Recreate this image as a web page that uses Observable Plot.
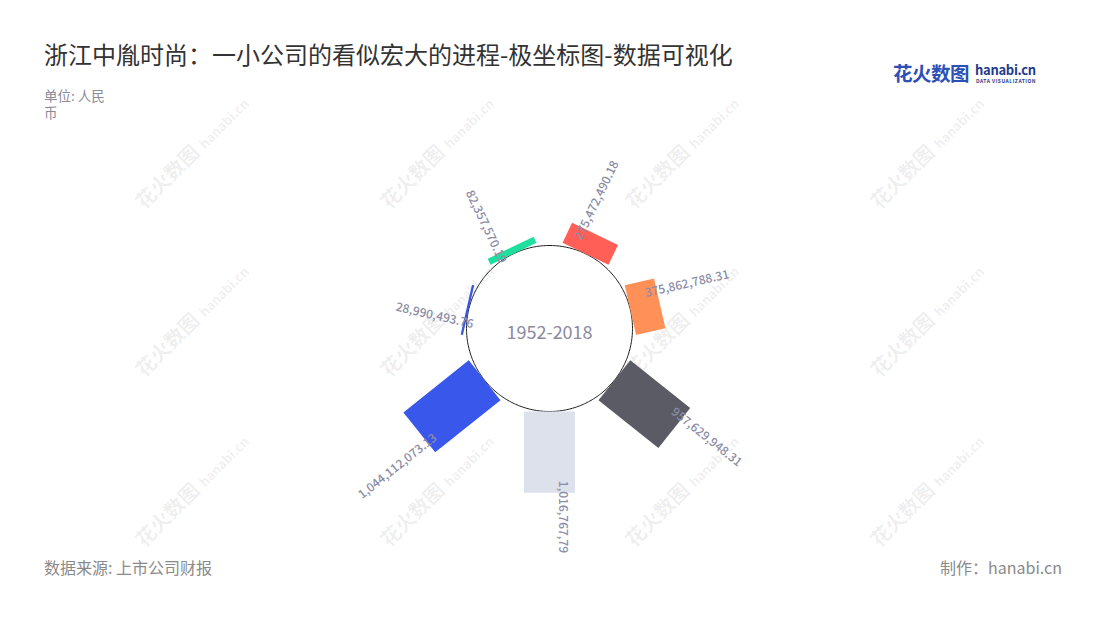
<!DOCTYPE html>
<html>
<head>
<meta charset="utf-8">
<script src="https://cdn.jsdelivr.net/npm/d3@7"></script>
<script src="https://cdn.jsdelivr.net/npm/@observablehq/plot@0.6"></script>
<style>
  html, body { margin: 0; padding: 0; background: #fff; }
  body { width: 1100px; height: 620px; position: relative; overflow: hidden;
         font-family: "Noto Sans CJK SC", "Noto Sans", sans-serif; }
  .abs { position: absolute; white-space: nowrap; }
  #title { left: 44px; top: 37px; font-size: 24px; line-height: 34px; color: #333; }
  #unit { left: 44px; top: 87px; font-size: 13.5px; color: #8a8a99; white-space: normal; width: 70px; line-height: 17px; }
  #source { left: 44px; top: 555px; font-size: 16px; color: #8a8a8a; }
  #maker { right: 38px; top: 555px; font-size: 16px; color: #8a8a8a; }
  #logo { left: 893px; top: 58px; }
  #logo .cn { font-size: 19.5px; font-weight: 700; color: #2c4fb8; letter-spacing: -0.5px; }
  #logo .en { position: absolute; left: 82px; top: 2px; font-size: 13px; font-weight: 700; color: #1f3b8c; letter-spacing: -0.3px; }
  #logo .sub { position: absolute; left: 83px; top: 19px; font-size: 5px; font-weight: 700; color: #1f3b8c; letter-spacing: 0.5px; }
  .wm { position: absolute; transform-origin: 0 0; transform: rotate(-45deg); color: rgba(0,0,0,0.075); white-space: nowrap; }
  .wm .c { font-size: 20px; font-weight: 700; }
  .wm .e { font-size: 13px; font-weight: 700; margin-left: 6px; }
  #chart { position: absolute; left: 299px; top: 78px; }
  #chart svg { overflow: visible; }
</style>
</head>
<body>
<div id="wms"></div>
<div id="title" class="abs">浙江中胤时尚：一小公司的看似宏大的进程-极坐标图-数据可视化</div>
<div id="unit" class="abs">单位: 人民币</div>
<div id="logo" class="abs"><span class="cn">花火数图</span><span class="en">hanabi.cn</span><span class="sub">DATA VISUALIZATION</span></div>
<div id="chart"></div>
<div id="source" class="abs">数据来源: 上市公司财报</div>
<div id="maker" class="abs">制作：hanabi.cn</div>
<script>
// ---- data ----
const categories = ["项目1", "项目2", "项目3", "项目4", "项目5", "项目6", "项目7"];
const values = [275472490.18, 375862788.31, 957629948.31, 1016767790, 1044112073.13, 28990493.76, 82357570.19];
const valueLabels = ["275,472,490.18", "375,862,788.31", "957,629,948.31", "1,016,767,79", "1,044,112,073.13", "28,990,493.76", "82,357,570.19"];
const period = ["1952-2018"];
const palette = ["#ff5f57", "#ff9158", "#5b5b66", "#dce1ec", "#3957ea", "#3a57e2", "#1de09f"];

// ---- layout constants (units of 1e9 yuan; 80px per unit) ----
const unit = 1e9;
const D = 250 / 80;          // half domain
const R0 = 83 / 80;          // inner circle radius
const HW = 25.5 / 80;        // bar half width
const n = categories.length;
const angle = i => (i + 0.5) * 2 * Math.PI / n;

// inner circle
const circlePts = d3.range(0, 361).map(a => ({
  x: R0 * Math.sin(a * Math.PI / 180), y: R0 * Math.cos(a * Math.PI / 180)
}));

// bars as rotated rectangles
const barPts = [];
categories.forEach((cat, i) => {
  const t = angle(i);
  const ux = Math.sin(t), uy = Math.cos(t);
  const vx = Math.cos(t), vy = -Math.sin(t);
  const r1 = R0 + values[i] / unit;
  const corners = [[R0, -HW], [r1, -HW], [r1, HW], [R0, HW], [R0, -HW]];
  corners.forEach(([r, w]) => barPts.push({cat, x: r * ux + w * vx, y: r * uy + w * vy}));
});

// labels
const labels = categories.map((cat, i) => {
  const t = angle(i);
  const deg = t * 180 / Math.PI;
  const ux = Math.sin(t), uy = Math.cos(t);
  const vx = Math.cos(t), vy = -Math.sin(t);
  const right = deg <= 180.001;
  const r = R0 + values[i] / unit - (right ? 12 : 10) / 80;
  const w = -13 / 80;
  return {text: valueLabels[i], x: r * ux + w * vx, y: r * uy + w * vy,
          rotate: right ? deg - 90 : deg - 270, right};
});

const chart = Plot.plot({
  width: 500, height: 500, margin: 0,
  x: {domain: [-D, D], axis: null},
  y: {domain: [-D, D], axis: null},
  color: {domain: categories, range: palette},
  style: {overflow: "visible", background: "transparent", fontFamily: "'Noto Sans CJK SC', 'Noto Sans', sans-serif"},
  marks: [
    Plot.line(circlePts, {x: "x", y: "y", stroke: "#1a1a1a", strokeWidth: 1}),
    Plot.line(barPts, {x: "x", y: "y", z: "cat", fill: "cat", stroke: "none"}),
    Plot.text(labels.filter(d => d.right), {x: "x", y: "y", text: "text", rotate: "rotate",
      textAnchor: "start", fontSize: 12, fill: "#8b8da5", fontWeight: 500}),
    Plot.text(labels.filter(d => !d.right), {x: "x", y: "y", text: "text", rotate: "rotate",
      textAnchor: "end", fontSize: 12, fill: "#8b8da5", fontWeight: 500}),
    Plot.text(period, {text: d => d, frameAnchor: "middle", dy: 5, fontSize: 18, fill: "#8a8aa0"})
  ]
});
document.getElementById("chart").appendChild(chart);

// watermarks
const wms = document.getElementById("wms");
const cols = [128, 373, 618, 863];
const rows = [194, 362, 532];
rows.forEach(y => cols.forEach(x => {
  const d = document.createElement("div");
  d.className = "wm";
  d.style.left = x + "px";
  d.style.top = y + "px";
  d.innerHTML = '<span class="c">花火数图</span><span class="e">hanabi.cn</span>';
  wms.appendChild(d);
}));
</script>
</body>
</html>
